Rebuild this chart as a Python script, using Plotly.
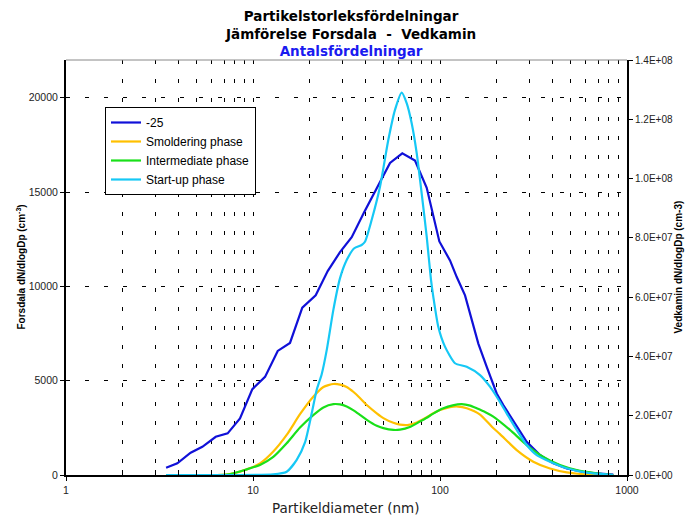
import plotly.graph_objects as go

# ---- data ----
# -25 (Forsdala, left axis)
d_amb = [3.43, 3.94, 4.64, 5.36, 6.32, 7.32, 8.52, 9.92, 11.6, 13.56, 15.77, 18.35, 21.64,
         25.09, 29.19, 33.72, 39.23, 46.04, 54.04, 62.86, 73.5, 84.9, 99.2, 113.1, 122.9,
         136.1, 147.7, 160.3, 177.8, 201.0, 218.0, 251.8, 290.8, 342.6, 403.6, 476, 609, 845]
n_amb = [386, 619, 1180, 1497, 2026, 2206, 3000, 4550, 5201, 6577, 7000, 8873, 9524,
         10810, 11815, 12609, 13915, 15238, 16545, 17053, 16667, 15222, 12381, 11376, 10494,
         9524, 8202, 6968, 5732, 4321, 3704, 2735, 1762, 1058, 619, 354, 122, 16]

# Smoldering phase (Vedkamin, right axis)
d_smold = [3.43, 4.72, 7.23, 9.25, 10.9, 12.84, 15.14, 17.84, 21.0, 23.8, 26.9, 29.2, 31.7,
           34.5, 37.3, 40.6, 45.9, 49.8, 56.3, 61.1, 68.0, 75.1, 84.0, 92.1, 100, 113, 125,
           139, 163.7, 190, 209.4, 257.2, 315.4, 387.5, 476, 609, 845]
n_smold = [0, 0, 0.01e7, 0.19e7, 0.39e7, 0.79e7, 1.35e7, 2.05e7, 2.64e7, 2.97e7, 3.07e7, 3.05e7,
           2.97e7, 2.80e7, 2.60e7, 2.36e7, 2.08e7, 1.92e7, 1.76e7, 1.70e7, 1.69e7, 1.77e7,
           1.93e7, 2.08e7, 2.19e7, 2.29e7, 2.31e7, 2.25e7, 2.04e7, 1.62e7, 1.38e7, 0.84e7,
           0.45e7, 0.22e7, 0.09e7, 0.02e7, 0]

# Intermediate phase (Vedkamin, right axis)
d_inter = [3.43, 4.72, 7.23, 9.25, 10.9, 12.84, 15.14, 17.84, 21.0, 23.8, 26.9, 29.2, 31.7,
           34.5, 37.3, 40.6, 45.9, 49.8, 56.3, 61.1, 69.0, 78.0, 84.9, 92.0, 104.2, 117,
           130.6, 145, 157.1, 175, 192.8, 236.7, 290.8, 356.8, 438.2, 538.3, 688.7, 845]
n_inter = [0, 0, 0.01e7, 0.19e7, 0.34e7, 0.61e7, 1.07e7, 1.60e7, 2.02e7, 2.28e7, 2.39e7, 2.38e7,
           2.31e7, 2.18e7, 2.03e7, 1.86e7, 1.66e7, 1.58e7, 1.52e7, 1.53e7, 1.62e7, 1.80e7,
           1.93e7, 2.07e7, 2.25e7, 2.35e7, 2.39e7, 2.34e7, 2.25e7, 2.12e7, 1.97e7, 1.52e7,
           1.01e7, 0.61e7, 0.34e7, 0.17e7, 0.06e7, 0]

# Start-up phase (Vedkamin, right axis)
d_start = [3.43, 7.53, 12.84, 15.14, 17.13, 18.97, 20.6, 21.9, 23.3, 24.8, 26.9, 29.2, 31.7,
           34.8, 38.1, 39.7, 43.1, 47.8, 52.9, 57.4, 62.4, 66.4, 70.6, 75.1, 79.8, 84.9,
           89.5, 92.1, 97.9, 106.3, 120.3, 138.9, 163.7, 185, 201, 227.3, 257.2, 290.8,
           328.9, 387.5, 476, 609, 845]
n_start = [0, 0, 0.02e7, 0.11e7, 0.51e7, 1.1e7, 2.08e7, 2.87e7, 3.4e7, 4.22e7, 5.57e7, 6.64e7,
           7.25e7, 7.65e7, 7.76e7, 7.87e7, 8.6e7, 9.73e7, 11.3e7, 12.31e7, 12.9e7, 12.54e7,
           11.86e7, 10.85e7, 9.5e7, 8.04e7, 6.58e7, 6.01e7, 5.0e7, 4.33e7, 3.77e7, 3.65e7,
           3.37e7, 2.98e7, 2.64e7, 2.08e7, 1.52e7, 1.01e7, 0.67e7, 0.45e7, 0.23e7, 0.08e7, 0]

x_tickvals = [1, 10, 100, 1000]
x_ticktext = ["1", "10", "100", "1000"]
x_minor = [m * 10 ** e for e in range(0, 3) for m in range(2, 10)]
y_tickvals = [0, 5000, 10000, 15000, 20000]
y2_tickvals = [0, 2e7, 4e7, 6e7, 8e7, 10e7, 12e7, 14e7]

C_AMB = "#1010D8"
C_SMOLD = "#FFC000"
C_INTER = "#19E019"
C_START = "#16C8F5"

fig = go.Figure()
fig.add_trace(go.Scatter(x=d_amb, y=n_amb, name="-25", mode="lines",
                         line=dict(color=C_AMB, width=2.2), yaxis="y"))
fig.add_trace(go.Scatter(x=d_smold, y=n_smold, name="Smoldering phase", mode="lines",
                         line=dict(color=C_SMOLD, width=2.2, shape="spline", smoothing=0.6),
                         yaxis="y2"))
fig.add_trace(go.Scatter(x=d_inter, y=n_inter, name="Intermediate phase", mode="lines",
                         line=dict(color=C_INTER, width=2.2, shape="spline", smoothing=0.6),
                         yaxis="y2"))
fig.add_trace(go.Scatter(x=d_start, y=n_start, name="Start-up phase", mode="lines",
                         line=dict(color=C_START, width=2.2, shape="spline", smoothing=0.6),
                         yaxis="y2"))

tickfont = dict(family="Liberation Sans, Arial, sans-serif", size=10.5, color="#222")
tickfont_r = dict(family="Liberation Sans, Arial, sans-serif", size=10, color="#222")
grid_dash = "4px,15px"

fig.update_layout(
    width=686, height=520,
    margin=dict(l=66, r=59, t=60, b=45),
    paper_bgcolor="white", plot_bgcolor="white",
    xaxis=dict(
        type="log", range=[0, 3],
        tickvals=x_tickvals, ticktext=x_ticktext,
        ticks="outside", ticklen=4, tickcolor="black", tickwidth=1,
        tickfont=tickfont,
        showline=True, linecolor="black", linewidth=2,
        showgrid=True, gridcolor="black", gridwidth=1, griddash=grid_dash,
        minor=dict(tickvals=x_minor, ticks="inside", ticklen=5, tickcolor="black",
                   showgrid=True, gridcolor="black", gridwidth=1, griddash=grid_dash),
        zeroline=False,
    ),
    yaxis=dict(
        range=[0, 22000],
        tickvals=y_tickvals, ticktext=[str(v) for v in y_tickvals],
        ticks="outside", ticklen=4, tickcolor="black",
        tickfont=tickfont,
        showline=True, linecolor="black", linewidth=2,
        showgrid=True, gridcolor="black", gridwidth=1, griddash=grid_dash,
        zeroline=False,
    ),
    yaxis2=dict(
        overlaying="y", side="right",
        range=[0, 1.4e8],
        tickvals=y2_tickvals, ticktext=[f"{v:.1E}" for v in y2_tickvals],
        ticks="outside", ticklen=4, tickcolor="black",
        tickfont=tickfont_r,
        showline=True, linecolor="black", linewidth=2,
        showgrid=False, zeroline=False,
    ),
    legend=dict(
        x=(105 - 66) / 561, y=(475 - 107) / 415, xanchor="left", yanchor="top",
        bgcolor="white", bordercolor="black", borderwidth=1,
        font=dict(family="Liberation Sans, Arial, sans-serif", size=12, color="black"),
        tracegroupgap=0, itemwidth=30,
    ),
    showlegend=True,
)

fig.add_shape(type="line", xref="paper", yref="paper", x0=0, x1=1, y0=1, y1=1,
              line=dict(color="#888888", width=1))

fig.add_annotation(
    text="<b>Partikelstorleksfördelningar<br>Jämförelse Forsdala\u00a0\u00a0-\u00a0\u00a0Vedkamin<br>"
         "<span style='color:#1A1AF0'>Antalsfördelningar</span></b>",
    xref="paper", yref="paper", x=(350 - 66) / 561, y=1 + (60 - 6) / 415,
    xanchor="center", yanchor="top", showarrow=False, align="center",
    font=dict(family="DejaVu Sans, Verdana, sans-serif", size=13.5, color="black"))

fig.add_annotation(text="<b>Forsdala dN/dlogDp (cm<sup>-3</sup>)</b>", textangle=-90,
                   xref="paper", yref="paper", x=(20 - 66) / 561, y=0.5,
                   showarrow=False, xanchor="center", yanchor="middle",
                   font=dict(family="Liberation Sans, Arial, sans-serif", size=10, color="black"))
fig.add_annotation(text="<b>Vedkamin dN/dlogDp (cm-3)</b>", textangle=-90,
                   xref="paper", yref="paper", x=(678 - 66) / 561, y=0.5,
                   showarrow=False, xanchor="center", yanchor="middle",
                   font=dict(family="Liberation Sans, Arial, sans-serif", size=10, color="black"))
fig.add_annotation(text="Partikeldiameter (nm)",
                   xref="paper", yref="paper", x=(346 - 66) / 561, y=(475 - 508) / 415,
                   showarrow=False, xanchor="center", yanchor="middle",
                   font=dict(family="DejaVu Sans, Verdana, sans-serif", size=13.5, color="#222"))

fig.write_html("out.html")
